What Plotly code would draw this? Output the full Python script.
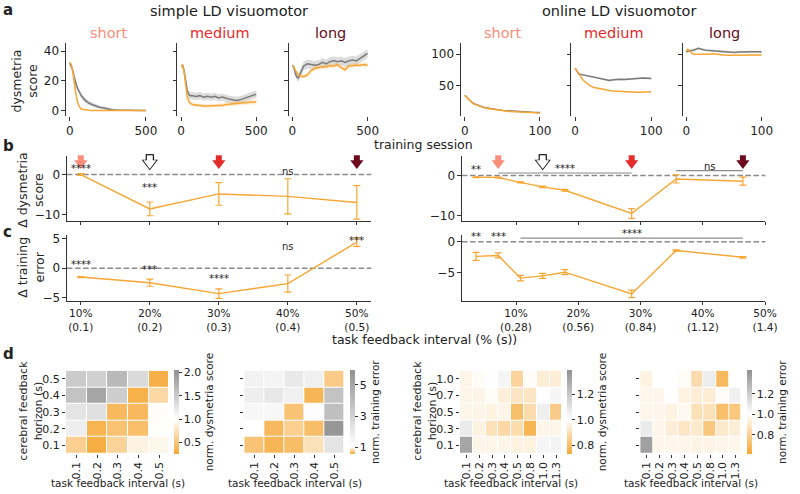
import plotly.graph_objects as go

# ======================= DATA =======================
sessions_simple = [0, 10, 20, 30, 40, 50, 60, 75, 100, 125, 150, 175, 200, 225, 250, 275, 300, 325, 350, 375, 400, 425, 450, 475, 500]
sessions_online = [0, 2, 4, 6, 8, 10, 13, 16, 20, 25, 30, 35, 40, 45, 50, 55, 60, 65, 70, 75, 80, 85, 90, 95, 100]

simple_short_orange = [32.5, 31, 26, 18, 11, 6, 3, 1, 0.3, 0.1, 0, 0, 0, 0, 0, 0, 0, 0, 0, 0, 0, 0, 0, 0, 0]
simple_short_orange_sd = [0.5, 0.5, 0.8, 1, 1, 0.8, 0.5, 0.3, 0.2, 0.1, 0.1, 0.1, 0.1, 0.1, 0.1, 0.1, 0.1, 0.1, 0.1, 0.1, 0.1, 0.1, 0.1, 0.1, 0.1]
simple_short_gray = [32, 30, 27, 22, 18, 15, 13, 10, 7, 5, 3.8, 2.8, 2, 1.7, 1, 0.5, 0.3, 0.2, 0.1, 0, 0, 0, 0, 0, 0]
simple_short_gray_sd = [1, 1, 1.5, 2, 2, 2, 2, 2, 1.8, 1.5, 1.5, 1.2, 1, 1, 1, 0.8, 0.6, 0.5, 0.5, 0.4, 0.3, 0.3, 0.3, 0.3, 0.3]

simple_medium_orange = [30, 30.5, 26, 17, 10, 6.5, 5, 4, 3.5, 3, 3, 3, 3, 3.2, 3.3, 3.5, 4, 4.3, 4.5, 5, 5, 5.3, 5.5, 5.7, 5.7]
simple_medium_orange_sd = [0.8, 0.8, 1, 1.2, 1.2, 1.2, 1.2, 1.2, 1.2, 1.2, 1.2, 1.2, 1.2, 1.2, 1.3, 1.3, 1.4, 1.4, 1.5, 1.5, 1.5, 1.5, 1.5, 1.5, 1.5]
simple_medium_gray = [30, 30.5, 27, 20, 14, 11, 10, 10, 9.5, 10, 9, 9.5, 9, 9.5, 8.5, 9, 8, 7.5, 7, 6.8, 7.5, 8.5, 9, 10, 11]
simple_medium_gray_sd = [1, 1, 2, 2, 2.5, 2.5, 2.5, 2.5, 2.5, 2.5, 2.5, 2.5, 2.5, 2.5, 2.5, 2.5, 2.5, 2.5, 2.5, 2.5, 2.5, 2.5, 2.5, 2.5, 2.5]

simple_long_orange = [30, 29.5, 27, 25, 24, 23.5, 23, 23, 24, 27, 28.5, 29, 29.5, 29.5, 30, 30, 31, 29, 27.5, 30, 30.5, 30.5, 30.5, 31, 30.5]
simple_long_orange_sd = [1, 1, 1.2, 1.5, 1.5, 1.5, 1.5, 1.5, 1.5, 1.5, 1.5, 1.5, 1.5, 1.5, 1.5, 1.5, 1.5, 1.5, 1.5, 1.5, 1.5, 1.5, 1.5, 1.5, 1.5]
simple_long_gray = [30.5, 29, 25, 22.5, 22, 24, 27, 30, 31.5, 31, 30.5, 31, 32.5, 31.5, 33, 33.5, 33, 33.5, 32.5, 33.5, 34, 33.5, 35, 37, 38.5]
simple_long_gray_sd = [1, 1.5, 2, 2.5, 2.5, 3, 3, 3, 3, 3, 3, 3, 3, 3, 3, 3, 3, 3, 3, 3, 3, 3, 3, 3, 3]

online_short_orange = [35, 32.5, 30, 27.5, 25, 23, 21, 19.5, 17.5, 15.5, 14, 13, 12, 11, 10.5, 10, 9.5, 9, 8.5, 8.2, 8, 7.7, 7.5, 7.2, 7]
online_short_orange_sd = [0.5, 0.5, 0.5, 0.5, 0.5, 0.5, 0.5, 0.5, 0.5, 0.5, 0.5, 0.5, 0.5, 0.5, 0.5, 0.5, 0.5, 0.5, 0.5, 0.5, 0.5, 0.5, 0.5, 0.5, 0.5]
online_short_gray = [35, 32.5, 30, 27.6, 25.3, 23.4, 21.4, 19.9, 18, 16.2, 14.7, 13.6, 12.6, 11.8, 11.1, 10.6, 10.1, 9.7, 9.3, 9, 8.7, 8.4, 8.1, 7.9, 7.7]
online_short_gray_sd = [0.6, 0.6, 0.6, 0.6, 0.6, 0.6, 0.6, 0.6, 0.6, 0.6, 0.6, 0.6, 0.6, 0.6, 0.6, 0.6, 0.6, 0.6, 0.6, 0.6, 0.6, 0.6, 0.6, 0.6, 0.6]

online_medium_orange = [78, 74, 70, 66, 63, 60, 56, 53, 50, 47.5, 46, 44.5, 43.5, 42.5, 42, 41.5, 41, 40.8, 40.5, 40.3, 40, 40, 40, 40.2, 40.5]
online_medium_orange_sd = [0.6, 0.6, 0.6, 0.6, 0.6, 0.6, 0.6, 0.6, 0.6, 0.6, 0.6, 0.6, 0.6, 0.6, 0.6, 0.6, 0.6, 0.6, 0.6, 0.6, 0.6, 0.6, 0.6, 0.6, 0.6]
online_medium_gray = [78, 74, 70, 68.5, 68, 67.5, 67, 66.5, 65.5, 64, 63, 61.5, 59.5, 58.5, 59.5, 60.5, 60.5, 60, 60.5, 61, 62, 62.5, 62.5, 62, 61.5]
online_medium_gray_sd = [1, 1, 1.2, 1.5, 1.5, 1.5, 1.5, 1.5, 1.5, 1.5, 1.5, 1.5, 1.5, 1.5, 1.5, 1.5, 1.5, 1.5, 1.5, 1.5, 1.5, 1.5, 1.5, 1.5, 1.5]

online_long_orange = [105, 108, 106, 103, 101, 100, 99.5, 100, 100, 99.5, 100, 101, 100, 99, 99, 98.5, 98.5, 98.5, 98.5, 98.5, 99, 99, 99, 99, 99]
online_long_orange_sd = [0.8, 0.8, 0.8, 0.8, 0.8, 0.8, 0.8, 0.8, 0.8, 0.8, 0.8, 0.8, 0.8, 0.8, 0.8, 0.8, 0.8, 0.8, 0.8, 0.8, 0.8, 0.8, 0.8, 0.8, 0.8]
online_long_gray = [104, 105, 105.5, 106, 106, 106.5, 108, 109.5, 108, 106.5, 106, 105.5, 105, 104.5, 104, 104, 103.5, 103, 103.5, 104, 104, 104, 104, 104, 104]
online_long_gray_sd = [1.5, 1.5, 1.5, 1.5, 1.5, 1.5, 1.5, 1.5, 1.5, 1.5, 1.5, 1.5, 1.5, 1.5, 1.5, 1.5, 1.5, 1.5, 1.5, 1.5, 1.5, 1.5, 1.5, 1.5, 1.5]

condition_titles = ["short", "medium", "long"]

intervals_simple = [0.1, 0.2, 0.3, 0.4, 0.5]
intervals_online = [0.1, 0.2, 0.3, 0.4, 0.5, 0.8, 1.0, 1.3]
d_dys_simple = [0.0, -8.5, -4.8, -5.4, -6.9]
d_dys_simple_err = [0.2, 1.7, 2.8, 4.35, 4.15]
d_err_simple = [-1.5, -2.45, -4.3, -2.6, 4.4]
d_err_simple_err = [0.1, 0.6, 0.8, 1.45, 0.7]
d_dys_online = [-0.4, -0.5, -1.7, -2.8, -3.65, -9.4, -0.85, -1.4]
d_dys_online_err = [0.1, 0.1, 0.15, 0.2, 0.2, 1.2, 1.0, 1.0]
d_err_online = [-2.35, -2.2, -5.85, -5.5, -4.9, -8.4, -1.4, -2.5]
d_err_online_err = [0.65, 0.4, 0.45, 0.4, 0.4, 0.6, 0.1, 0.12]

pct_labels = ["10%", "20%", "30%", "40%", "50%"]
sec_ticks_simple = [0.1, 0.2, 0.3, 0.4, 0.5]
sec_ticks_online = [0.28, 0.56, 0.84, 1.12, 1.4]
sec_labels_simple = ["(0.1)", "(0.2)", "(0.3)", "(0.4)", "(0.5)"]
sec_labels_online = ["(0.28)", "(0.56)", "(0.84)", "(1.12)", "(1.4)"]

arrow_x_simple = [0.1, 0.2, 0.3, 0.5]
arrow_x_online = [0.2, 0.4, 0.8, 1.3]

# significance labels: (x or (x0, x1) bracket, text)
sig_b_simple = [(0.1, "****"), (0.2, "***"), (0.4, "ns")]
sig_c_simple = [(0.1, "****"), (0.2, "***"), (0.3, "****"), (0.4, "ns"), (0.5, "***")]
sig_b_online = [(0.1, "**"), ((0.2, 0.8), "****"), ((1.0, 1.3), "ns")]
sig_c_online = [(0.1, "**"), (0.2, "***"), ((0.3, 1.3), "****")]

hm_simple_x = ["0.1", "0.2", "0.3", "0.4", "0.5"]
hm_simple_y = ["0.1", "0.2", "0.3", "0.4", "0.5"]
hm_online_x = ["0.1", "0.2", "0.3", "0.4", "0.5", "0.8", "1.0", "1.3"]
hm_online_y = ["0.1", "0.3", "0.5", "0.7", "1.0"]

hm_simple_dys = [
    [0.59, 0.29, 0.62, 0.89, 0.93],
    [1.16, 0.35, 0.47, 0.44, 0.99],
    [1.26, 1.30, 0.40, 0.40, 0.98],
    [1.57, 1.86, 1.48, 0.33, 0.66],
    [1.50, 1.45, 1.67, 1.35, 0.32],
]
hm_simple_err = [
    [0.69, 0.62, 0.66, 0.84, 2.2],
    [1.02, 0.64, 0.75, 0.66, 5.7],
    [1.36, 1.36, 0.69, 1.10, 3.9],
    [1.77, 2.10, 1.68, 0.62, 3.7],
    [1.58, 1.50, 2.00, 1.68, 0.73],
]
hm_online_dys = [
    [1.32, 0.97, 0.97, 0.97, 0.96, 0.96, 1.035, 1.04],
    [1.07, 0.96, 0.905, 0.88, 0.89, 0.77, 0.97, 0.97],
    [0.97, 0.97, 0.96, 0.97, 0.80, 0.89, 1.06, 0.84],
    [0.97, 0.97, 0.99, 0.95, 0.92, 0.92, 1.00, 1.035],
    [0.97, 0.99, 1.00, 1.035, 0.865, 0.99, 0.945, 0.945],
]
hm_online_err = [
    [1.37, 0.96, 0.96, 0.96, 0.95, 0.95, 0.96, 0.96],
    [1.08, 0.96, 0.92, 0.89, 0.90, 0.75, 0.90, 0.92],
    [0.96, 0.96, 0.94, 0.97, 0.86, 0.86, 0.71, 0.75],
    [0.96, 0.96, 1.00, 0.94, 0.92, 0.92, 0.99, 1.06],
    [0.94, 1.00, 1.00, 0.98, 0.84, 1.07, 0.69, 1.00],
]

# ======================= STYLE =======================
W, H = 800, 494
FONT = "DejaVu Sans"
ORANGE = "#F8A633"
ORANGE_BAND = "rgba(248,166,51,0.22)"
GRAY = "#7a7a7a"
GRAY_BAND = "rgba(140,140,140,0.3)"
SALMON = "#F98F7B"
RED = "#E52B2B"
DARKRED = "#6B0B1D"
TITLE_COLORS = [SALMON, RED, DARKRED]
AX = "#333333"
TXT = "#222222"
HM_ORANGE = "rgb(246,168,54)"
HM_GRAY = "rgb(145,145,145)"


def px(x):
    return x / W


def py(y):
    return 1 - y / H


def xa(i):
    return "x" if i == 1 else f"x{i}"


def ya(i):
    return "y" if i == 1 else f"y{i}"


def xkey(i):
    return "xaxis" if i == 1 else f"xaxis{i}"


def ykey(i):
    return "yaxis" if i == 1 else f"yaxis{i}"


def y_at(pix, rng, top, bot):
    return rng[1] - (pix - top) / (bot - top) * (rng[1] - rng[0])


fig = go.Figure()
layout = {}
annotations = []
shapes = []


def note(text, x, y, size=12, color=TXT, angle=0, xref="paper", yref="paper", xanchor="center", yanchor="middle", bold=False):
    if bold:
        text = f"<b>{text}</b>"
    annotations.append(dict(text=text, x=x, y=y, xref=xref, yref=yref, showarrow=False,
                            xanchor=xanchor, yanchor=yanchor, textangle=angle,
                            font=dict(family=FONT, size=size, color=color)))


def base_axis(**kw):
    d = dict(showgrid=False, zeroline=False, ticks="outside", ticklen=3.5, tickwidth=1,
             tickcolor=AX, linecolor=AX, linewidth=1, tickfont=dict(family=FONT, size=12, color=TXT),
             fixedrange=True)
    d.update(kw)
    return d


def band(x, y, sd, color, i):
    up = [a + b for a, b in zip(y, sd)]
    lo = [a - b for a, b in zip(y, sd)]
    return go.Scatter(x=list(x) + list(x)[::-1], y=up + lo[::-1], fill="toself", fillcolor=color,
                      line=dict(width=0), mode="lines", xaxis=xa(i), yaxis=ya(i), hoverinfo="skip",
                      showlegend=False)


# ---------------- panel a ----------------
A_TOP, A_BOT = 41, 115
a_specs = [
    (1, sessions_simple, simple_short_orange, simple_short_orange_sd, simple_short_gray, simple_short_gray_sd, (67, 152)),
    (2, sessions_simple, simple_medium_orange, simple_medium_orange_sd, simple_medium_gray, simple_medium_gray_sd, (180, 264)),
    (3, sessions_simple, simple_long_orange, simple_long_orange_sd, simple_long_gray, simple_long_gray_sd, (293, 377)),
    (4, sessions_online, online_short_orange, online_short_orange_sd, online_short_gray, online_short_gray_sd, (468, 552)),
    (5, sessions_online, online_medium_orange, online_medium_orange_sd, online_medium_gray, online_medium_gray_sd, (580, 665)),
    (6, sessions_online, online_long_orange, online_long_orange_sd, online_long_gray, online_long_gray_sd, (693, 777)),
]
for i, xs, yo, so, yg, sg, (x0, x1) in a_specs:
    fig.add_trace(band(xs, yg, sg, GRAY_BAND, i))
    fig.add_trace(go.Scatter(x=xs, y=yg, mode="lines", line=dict(color=GRAY, width=1.5),
                             xaxis=xa(i), yaxis=ya(i), showlegend=False))
    fig.add_trace(band(xs, yo, so, ORANGE_BAND, i))
    fig.add_trace(go.Scatter(x=xs, y=yo, mode="lines", line=dict(color=ORANGE, width=1.5),
                             xaxis=xa(i), yaxis=ya(i), showlegend=False))
    simple = i <= 3
    layout[xkey(i)] = base_axis(domain=[px(x0), px(x1)], anchor=ya(i), showline=False,
                                range=[-25, 525] if simple else [-5, 105],
                                tickvals=[0, 500] if simple else [0, 100])
    layout[ykey(i)] = base_axis(domain=[py(A_BOT), py(A_TOP)], anchor=xa(i), showline=True,
                                range=[-4, 45.3] if simple else [1.6, 117.2],
                                tickvals=[0, 20, 40] if simple else [50, 100],
                                showticklabels=(i in (1, 4)))
    note(condition_titles[(i - 1) % 3], px((x0 + x1) / 2 + 1), py(30), size=14.5,
         color=TITLE_COLORS[(i - 1) % 3])

note("simple LD visuomotor", px(232), py(8), size=14.5)
note("online LD visuomotor", px(628), py(8), size=14.5)
note("dysmetria<br>score", px(25), py(79), size=12.5, angle=-90)
note("training session", px(430), py(143.5), size=12.5)

# ---------------- panels b & c ----------------
B_TOP, B_BOT = 155, 221
C_TOP, C_BOT = 235, 302
LX = (68, 377)
RX = (469, 777)
rng_x_simple = [0.08, 0.521]
rng_x_online = [0.037, 1.401]
rng_b_simple = [-11.46, 4.63]
rng_b_online = [-11.22, 4.88]
rng_c_simple = [-5.5, 5.67]
rng_c_online = [-9.5, 1.15]

bc_specs = [
    (7, intervals_simple, d_dys_simple, d_dys_simple_err, LX, (B_TOP, B_BOT), rng_x_simple, rng_b_simple, [-10, 0], sec_ticks_simple, None),
    (8, intervals_online, d_dys_online, d_dys_online_err, RX, (B_TOP, B_BOT), rng_x_online, rng_b_online, [-10, 0], sec_ticks_online, None),
    (9, intervals_simple, d_err_simple, d_err_simple_err, LX, (C_TOP, C_BOT), rng_x_simple, rng_c_simple, [-5, 0, 5], sec_ticks_simple, sec_labels_simple),
    (10, intervals_online, d_err_online, d_err_online_err, RX, (C_TOP, C_BOT), rng_x_online, rng_c_online, [-5, 0], sec_ticks_online, sec_labels_online),
]
for i, xs, ys, es, (x0, x1), (t, b), rx, ry, yt, xt, secl in bc_specs:
    shapes.append(dict(type="line", xref=f"{xa(i)} domain", x0=0, x1=1, yref=ya(i), y0=0, y1=0,
                       line=dict(color="#8a8a8a", width=1.4, dash="5.5px,2.6px"), layer="below"))
    fig.add_trace(go.Scatter(x=xs, y=ys, mode="lines", line=dict(color=ORANGE, width=1.4),
                             error_y=dict(type="data", array=es, visible=True, color=ORANGE,
                                          thickness=1.2, width=3.5),
                             xaxis=xa(i), yaxis=ya(i), showlegend=False, cliponaxis=False))
    ttext = None
    if secl is not None:
        ttext = [f"{p}<br>{s}" for p, s in zip(pct_labels, secl)]
    layout[xkey(i)] = base_axis(domain=[px(x0), px(x1)], anchor=ya(i), showline=True, range=rx,
                                tickvals=xt, ticktext=ttext, showticklabels=secl is not None,
                                ticklen=3, tickfont=dict(family=FONT, size=10.6, color=TXT))
    layout[ykey(i)] = base_axis(domain=[py(b), py(t)], anchor=xa(i), showline=True, range=ry,
                                tickvals=yt)

# arrows (b panels)
arrow_colors = [SALMON, "white", RED, DARKRED]
for i, xs, rng in [(7, arrow_x_simple, rng_b_simple), (8, arrow_x_online, rng_b_online)]:
    head_y = y_at(162.5, rng, B_TOP, B_BOT)
    stem_y = y_at(157.5, rng, B_TOP, B_BOT)
    ox = [xs[1]]
    fig.add_trace(go.Scatter(x=ox, y=[stem_y], mode="markers", cliponaxis=False,
                             marker=dict(symbol="square", size=8.2, color="black", line=dict(width=0)),
                             xaxis=xa(i), yaxis=ya(i), showlegend=False))
    fig.add_trace(go.Scatter(x=ox, y=[head_y], mode="markers", cliponaxis=False,
                             marker=dict(symbol="triangle-down", size=14, color="black", line=dict(width=0)),
                             xaxis=xa(i), yaxis=ya(i), showlegend=False))
    fig.add_trace(go.Scatter(x=xs, y=[stem_y] * len(xs), mode="markers", cliponaxis=False,
                             marker=dict(symbol="square", size=6, color=arrow_colors, line=dict(width=0)),
                             xaxis=xa(i), yaxis=ya(i), showlegend=False))
    fig.add_trace(go.Scatter(x=xs, y=[head_y] * len(xs), mode="markers", cliponaxis=False,
                             marker=dict(symbol="triangle-down", size=11.5, color=arrow_colors, line=dict(width=0)),
                             xaxis=xa(i), yaxis=ya(i), showlegend=False))

# significance text (x in data units, y in figure pixels)
STAR = 10


def sig(i, items, pix_list, rng, top, bot, line_pix=None):
    for (xv, txt), p in zip(items, pix_list):
        if isinstance(xv, tuple):
            xm = (xv[0] + xv[1]) / 2
            ly = y_at(line_pix[txt], rng, top, bot)
            fig.add_trace(go.Scatter(x=list(xv), y=[ly, ly], mode="lines", line=dict(color="#8c8c8c", width=1.1),
                                     xaxis=xa(i), yaxis=ya(i), showlegend=False, cliponaxis=False))
        else:
            xm = xv
        note(txt, xm, py(p), size=STAR, xref=xa(i), yref="paper")


sig(7, sig_b_simple, [168, 187, 170.5], rng_b_simple, B_TOP, B_BOT)
sig(9, sig_c_simple, [265, 270, 279, 246.5, 241], rng_c_simple, C_TOP, C_BOT)
sig(8, sig_b_online, [169, 168, 165.5], rng_b_online, B_TOP, B_BOT, line_pix={"****": 172.5, "ns": 170})
sig(10, sig_c_online, [237, 237, 234], rng_c_online, C_TOP, C_BOT, line_pix={"****": 238.5})

note("Δ dysmetria<br>score", px(31), py(190), size=12.5, angle=-90)
note("Δ training<br>error", px(31), py(268), size=12.5, angle=-90)
note("task feedback interval (% (s))", px(431), py(341), size=12.5)

# ---------------- panel d heatmaps ----------------
HM_TOP, HM_BOT = 373, 457


def cscale(zmin, zmax):
    p = (1 - zmin) / (zmax - zmin)
    return [[0, HM_ORANGE], [p, "rgb(255,255,255)"], [1, HM_GRAY]]


hm_specs = [
    (11, hm_simple_x, hm_simple_y, hm_simple_dys, (67, 172), (0.25, 2.05), [0.5, 1.0, 1.5, 2.0], ".1f", "norm. dysmetria score", True),
    (12, hm_simple_x, hm_simple_y, hm_simple_err, (248, 350), (0.55, 5.95), [1, 3, 5], "d", "norm. training error", False),
    (13, hm_online_x, hm_online_y, hm_online_dys, (467, 571), (0.73, 1.39), [0.8, 1.0, 1.2], ".1f", "norm. dysmetria score", True),
    (14, hm_online_x, hm_online_y, hm_online_err, (650, 753), (0.61, 1.43), [0.8, 1.0, 1.2], ".1f", "norm. training error", False),
]
for i, hx, hy, z, (x0, x1), (zmin, zmax), cbt, cbf, cbtitle, ylab in hm_specs:
    fig.add_trace(go.Heatmap(
        z=z, x=hx, y=hy, zmin=zmin, zmax=zmax, colorscale=cscale(zmin, zmax), xgap=1, ygap=1,
        xaxis=xa(i), yaxis=ya(i), hoverinfo="skip",
        colorbar=dict(x=px(x1 + 5), xanchor="left", xpad=0, ypad=0, y=py((HM_TOP + HM_BOT) / 2),
                      yanchor="middle", len=HM_BOT - HM_TOP, lenmode="pixels", thickness=4.5,
                      thicknessmode="pixels", outlinewidth=0, ticks="outside", ticklen=3,
                      tickcolor=AX, tickvals=cbt, tickformat=cbf,
                      tickfont=dict(family=FONT, size=11, color=TXT),
                      title=dict(text=cbtitle, side="right", font=dict(family=FONT, size=10.5, color=TXT)))))
    layout[xkey(i)] = base_axis(domain=[px(x0), px(x1)], anchor=ya(i), showline=False, tickangle=-90,
                                ticklen=3, tickmode="array", tickvals=hx, ticktext=hx,
                                tickfont=dict(family=FONT, size=11, color=TXT))
    layout[ykey(i)] = base_axis(domain=[py(HM_BOT), py(HM_TOP)], anchor=xa(i), showline=False,
                                ticklen=3, tickmode="array", tickvals=hy, ticktext=hy,
                                showticklabels=ylab, tickfont=dict(family=FONT, size=11, color=TXT))
    note("task feedback interval (s)", px((x0 + x1) / 2), py(487), size=10.5)
    if ylab:
        note("cerebral feedback<br>horizon (s)", px(x0 - 36), py(414), size=11, angle=-90)

# panel letters
note("a", px(1), py(7), size=15, bold=True, xanchor="left")
note("b", px(1), py(145), size=15, bold=True, xanchor="left")
note("c", px(1), py(232), size=15, bold=True, xanchor="left")
note("d", px(1), py(356), size=15, bold=True, xanchor="left")

fig.update_layout(
    width=W, height=H, margin=dict(l=0, r=0, t=0, b=0),
    paper_bgcolor="white", plot_bgcolor="white",
    font=dict(family=FONT, size=12, color=TXT),
    showlegend=False, annotations=annotations, shapes=shapes,
    **layout,
)

fig.write_html("out.html", config={"displayModeBar": False},
               post_script="document.body.style.margin='0px';document.body.style.overflow='hidden';")
